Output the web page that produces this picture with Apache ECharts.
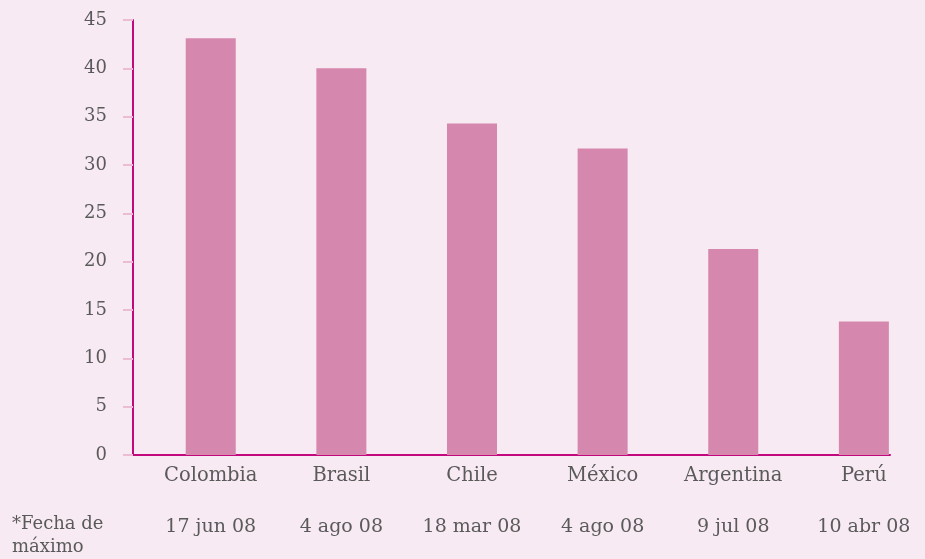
<!DOCTYPE html>
<html>
<head>
<meta charset="utf-8">
<script src="https://cdn.jsdelivr.net/npm/echarts@6/dist/echarts.min.js"></script>
<style>
    html, body { margin: 0; padding: 0; background: #f8eaf2; }
    #myChart { width: 925px; height: 559px; }
</style>
</head>
<body>
<div id="myChart"></div>
<script>
    // datos
    var paises = ['Colombia', 'Brasil', 'Chile', 'México', 'Argentina', 'Perú']
    var fechas = ['17 jun 08', '4 ago 08', '18 mar 08', '4 ago 08', '9 jul 08', '10 abr 08']
    var valores = [43.1, 40.0, 34.3, 31.7, 21.3, 13.8]
    var notaFecha = '*Fecha de\nmáximo'

    var fuente = 'DejaVu Serif'
    var gris = '#5a5a5a'
    var magenta = '#c2087c'

    var myChart = echarts.init(document.getElementById('myChart'))

    var barData = []
    for (let i = 0; i < valores.length; i++) {
        barData.push([i, valores[i]])
    }

    myChart.setOption({
        backgroundColor: '#f8eaf2',
        animation: false,
        title: {
            text: notaFecha,
            left: 12,
            top: 513,
            padding: 0,
            textStyle: {
                fontFamily: fuente,
                fontWeight: 'normal',
                fontSize: 18,
                lineHeight: 23,
                color: gris
            }
        },
        grid: {left: 133, right: 35, top: 20, bottom: 104},
        xAxis: {
            type: 'value',
            min: -0.595,
            max: 5.2,
            axisLine: {show: true, onZero: true, lineStyle: {color: magenta, width: 2}},
            axisTick: {show: false},
            axisLabel: {show: false},
            splitLine: {show: false}
        },
        yAxis: {
            type: 'value',
            min: 0,
            max: 45,
            interval: 5,
            axisLine: {show: true, onZero: false, lineStyle: {color: magenta, width: 2}},
            axisTick: {show: true, length: 10, lineStyle: {color: '#ecbcd4', width: 2}},
            axisLabel: {
                margin: 26,
                fontFamily: fuente,
                fontSize: 18,
                color: gris
            },
            splitLine: {show: false}
        },
        series: [{
            type: 'bar',
            data: barData,
            barWidth: 50,
            itemStyle: {color: '#d587ad'},
            label: {
                show: true,
                position: 'bottom',
                distance: 0,
                formatter: function (p) {
                    return '{c|' + paises[p.dataIndex] + '}\n{d|' + fechas[p.dataIndex] + '}'
                },
                rich: {
                    c: {fontFamily: fuente, fontSize: 19.5, lineHeight: 42, color: gris},
                    d: {fontFamily: fuente, fontSize: 19, lineHeight: 60, color: gris}
                }
            }
        }]
    })
</script>
</body>
</html>
